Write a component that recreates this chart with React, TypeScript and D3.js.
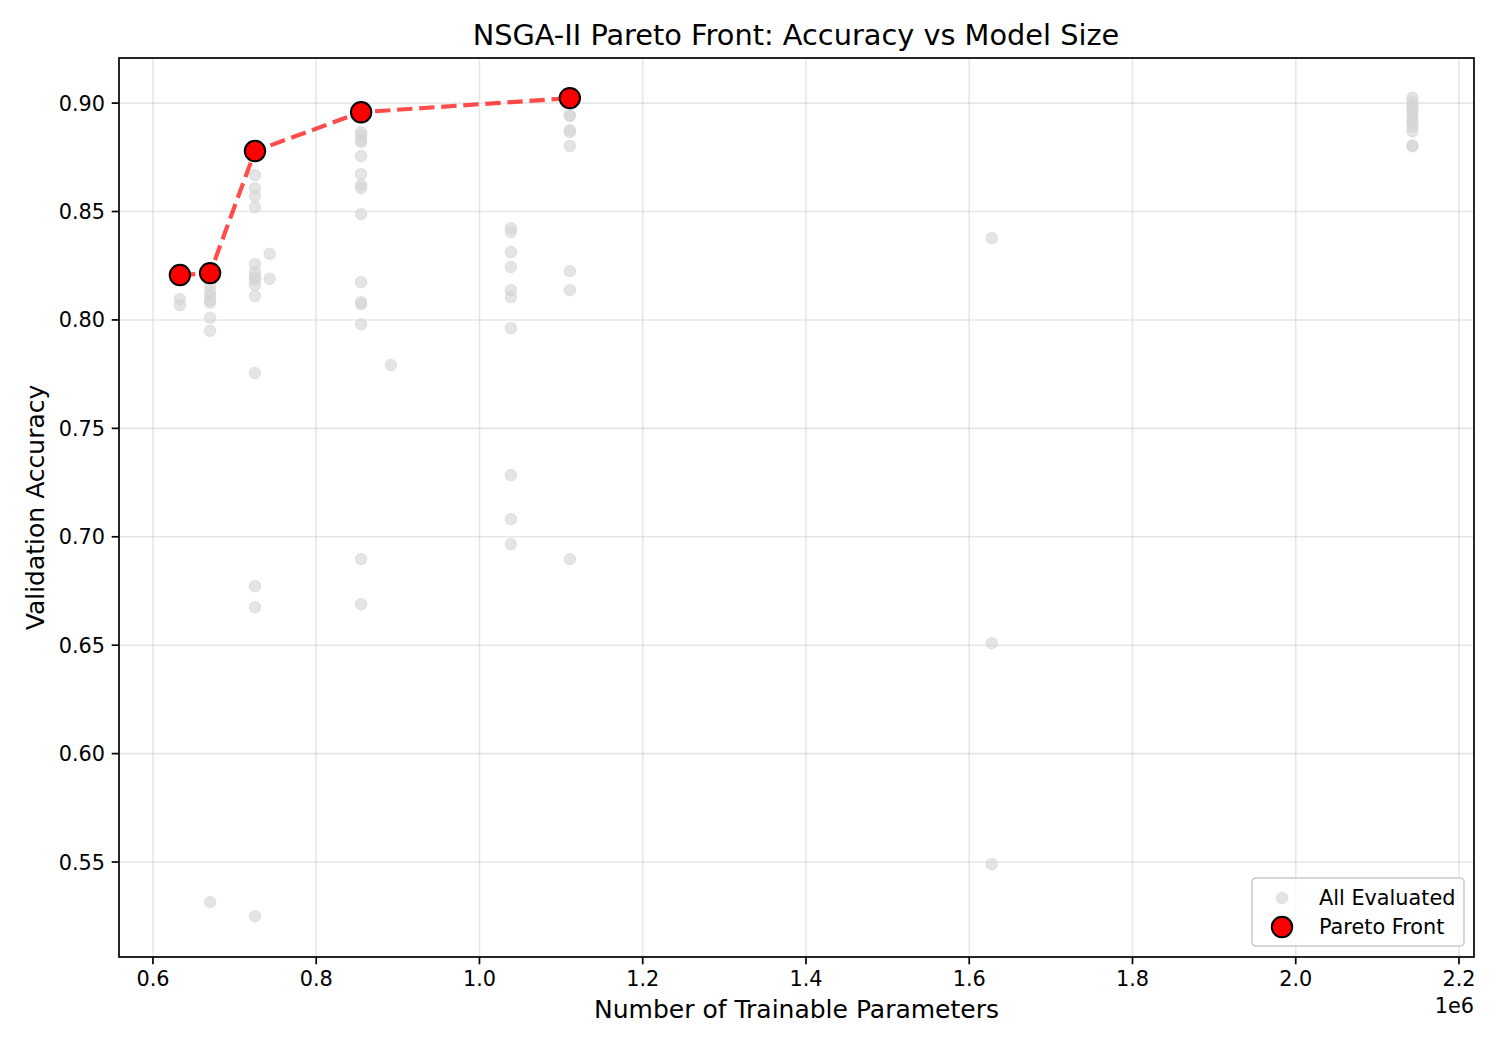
import * as d3 from "d3";

// all evaluated architectures (params, validation accuracy)
const allParams = [
  633000, 633000,
  670000, 670000, 670000, 670000, 670000, 670000, 670000, 670000,
  725000, 725000, 725000, 725000, 725000, 725000, 725000, 725000, 725000, 725000, 725000, 725000, 725000, 725000,
  743000, 743000,
  855000, 855000, 855000, 855000, 855000, 855000, 855000, 855000, 855000, 855000, 855000, 855000, 855000, 855000, 855000,
  891500,
  1038500, 1038500, 1038500, 1038500, 1038500, 1038500, 1038500, 1038500, 1038500, 1038500,
  1110700, 1110700, 1110700, 1110700, 1110700, 1110700, 1110700, 1110700,
  1627600, 1627600, 1627600,
  2143000, 2143000, 2143000, 2143000, 2143000, 2143000, 2143000, 2143000, 2143000, 2143000, 2143000, 2143000,
];
const allAcc = [
  0.8096, 0.8068,
  0.816, 0.813, 0.811, 0.809, 0.808, 0.801, 0.795, 0.5315,
  0.8668, 0.8608, 0.8571, 0.852, 0.8257, 0.822, 0.8197, 0.8184, 0.816, 0.811, 0.7755, 0.6772, 0.6675, 0.525,
  0.8305, 0.819,
  0.8866, 0.8852, 0.8829, 0.882, 0.8756, 0.8672, 0.8622, 0.8608, 0.8488, 0.8174, 0.8082, 0.8073, 0.798, 0.6897, 0.6689,
  0.7792,
  0.8423, 0.8405, 0.8313, 0.8244, 0.8137, 0.8105, 0.7962, 0.7284, 0.7081, 0.6966,
  0.8945, 0.894, 0.8875, 0.8866, 0.8802, 0.8225, 0.8137, 0.6897,
  0.8377, 0.6509, 0.549,
  0.9025, 0.9005, 0.899, 0.897, 0.896, 0.894, 0.892, 0.891, 0.889, 0.887, 0.8805, 0.88,
];

// non-dominated set
const paretoParams = [633000, 670000, 725000, 855000, 1110700];
const paretoAcc = [0.8207, 0.8216, 0.8779, 0.8958, 0.9023];

const xTicks = [0.6, 0.8, 1.0, 1.2, 1.4, 1.6, 1.8, 2.0, 2.2];
const yTicks = [0.55, 0.6, 0.65, 0.7, 0.75, 0.8, 0.85, 0.9];

const W = 1500;
const H = 1050;
const margin = { top: 58, right: 26, bottom: 93, left: 119 };
const font = "DejaVu Sans, sans-serif";

export default function App() {
  const innerW = W - margin.left - margin.right;
  const innerH = H - margin.top - margin.bottom;

  const x = d3.scaleLinear().domain([558400, 2218400]).range([0, innerW]);
  const y = d3.scaleLinear().domain([0.5062, 0.9208]).range([innerH, 0]);

  const line = d3
    .line<number>()
    .x((_, i) => x(paretoParams[i]))
    .y((d) => y(d));

  return (
    <svg
      width={W}
      height={H}
      style={{ position: "absolute", left: 0, top: 0, background: "#fff" }}
      fontFamily={font}
    >
      <text x={W / 2 + 46} y={45} textAnchor="middle" fontSize={28.8}>
        NSGA-II Pareto Front: Accuracy vs Model Size
      </text>
      <g transform={`translate(${margin.left},${margin.top})`}>
        {xTicks.map((t) => (
          <line
            key={"gx" + t}
            x1={x(t * 1e6)}
            x2={x(t * 1e6)}
            y1={0}
            y2={innerH}
            stroke="#b0b0b0"
            strokeOpacity={0.3}
            strokeWidth={1.6}
          />
        ))}
        {yTicks.map((t) => (
          <line
            key={"gy" + t}
            x1={0}
            x2={innerW}
            y1={y(t)}
            y2={y(t)}
            stroke="#b0b0b0"
            strokeOpacity={0.3}
            strokeWidth={1.6}
          />
        ))}

        {allParams.map((p, i) => (
          <circle
            key={"a" + i}
            cx={x(p)}
            cy={y(allAcc[i])}
            r={5.6}
            fill="#d3d3d3"
            fillOpacity={0.6}
            stroke="#d3d3d3"
            strokeOpacity={0.6}
            strokeWidth={1.2}
          />
        ))}

        <path
          d={line(paretoAcc) ?? ""}
          fill="none"
          stroke="#ff0000"
          strokeOpacity={0.7}
          strokeWidth={4.2}
          strokeDasharray="15.4 6.7"
        />
        {paretoParams.map((p, i) => (
          <circle
            key={"p" + i}
            cx={x(p)}
            cy={y(paretoAcc[i])}
            r={10.2}
            fill="#ff0000"
            stroke="#000"
            strokeWidth={2}
          />
        ))}

        {/* axes frame */}
        <rect x={0} y={0} width={innerW} height={innerH} fill="none" stroke="#000" strokeWidth={1.7} />

        {xTicks.map((t) => (
          <g key={"xt" + t} transform={`translate(${x(t * 1e6)},${innerH})`}>
            <line y1={0} y2={7.3} stroke="#000" strokeWidth={1.7} />
            <text y={29} textAnchor="middle" fontSize={20.8}>
              {d3.format(".1f")(t)}
            </text>
          </g>
        ))}
        {yTicks.map((t) => (
          <g key={"yt" + t} transform={`translate(0,${y(t)})`}>
            <line x1={-7.3} x2={0} stroke="#000" strokeWidth={1.7} />
            <text x={-14} dy="0.36em" textAnchor="end" fontSize={20.8}>
              {d3.format(".2f")(t)}
            </text>
          </g>
        ))}
        <text x={innerW} y={innerH + 56} textAnchor="end" fontSize={20.8}>
          1e6
        </text>

        <text x={innerW / 2} y={innerH + 61} textAnchor="middle" fontSize={25}>
          Number of Trainable Parameters
        </text>
        <text
          transform={`translate(${-75},${innerH / 2}) rotate(-90)`}
          textAnchor="middle"
          fontSize={25}
        >
          Validation Accuracy
        </text>

        {/* legend */}
        <g transform={`translate(${innerW - 222},${innerH - 79})`}>
          <rect
            width={212}
            height={68}
            rx={4}
            fill="#fff"
            fillOpacity={0.8}
            stroke="#cccccc"
            strokeWidth={1.6}
          />
          <circle
            cx={30}
            cy={20}
            r={5.6}
            fill="#d3d3d3"
            fillOpacity={0.6}
            stroke="#d3d3d3"
            strokeOpacity={0.6}
            strokeWidth={1.2}
          />
          <text x={67} y={20} dy="0.36em" fontSize={20.8}>
            All Evaluated
          </text>
          <circle cx={30} cy={49} r={10.2} fill="#ff0000" stroke="#000" strokeWidth={2} />
          <text x={67} y={49} dy="0.36em" fontSize={20.8}>
            Pareto Front
          </text>
        </g>
      </g>
    </svg>
  );
}
